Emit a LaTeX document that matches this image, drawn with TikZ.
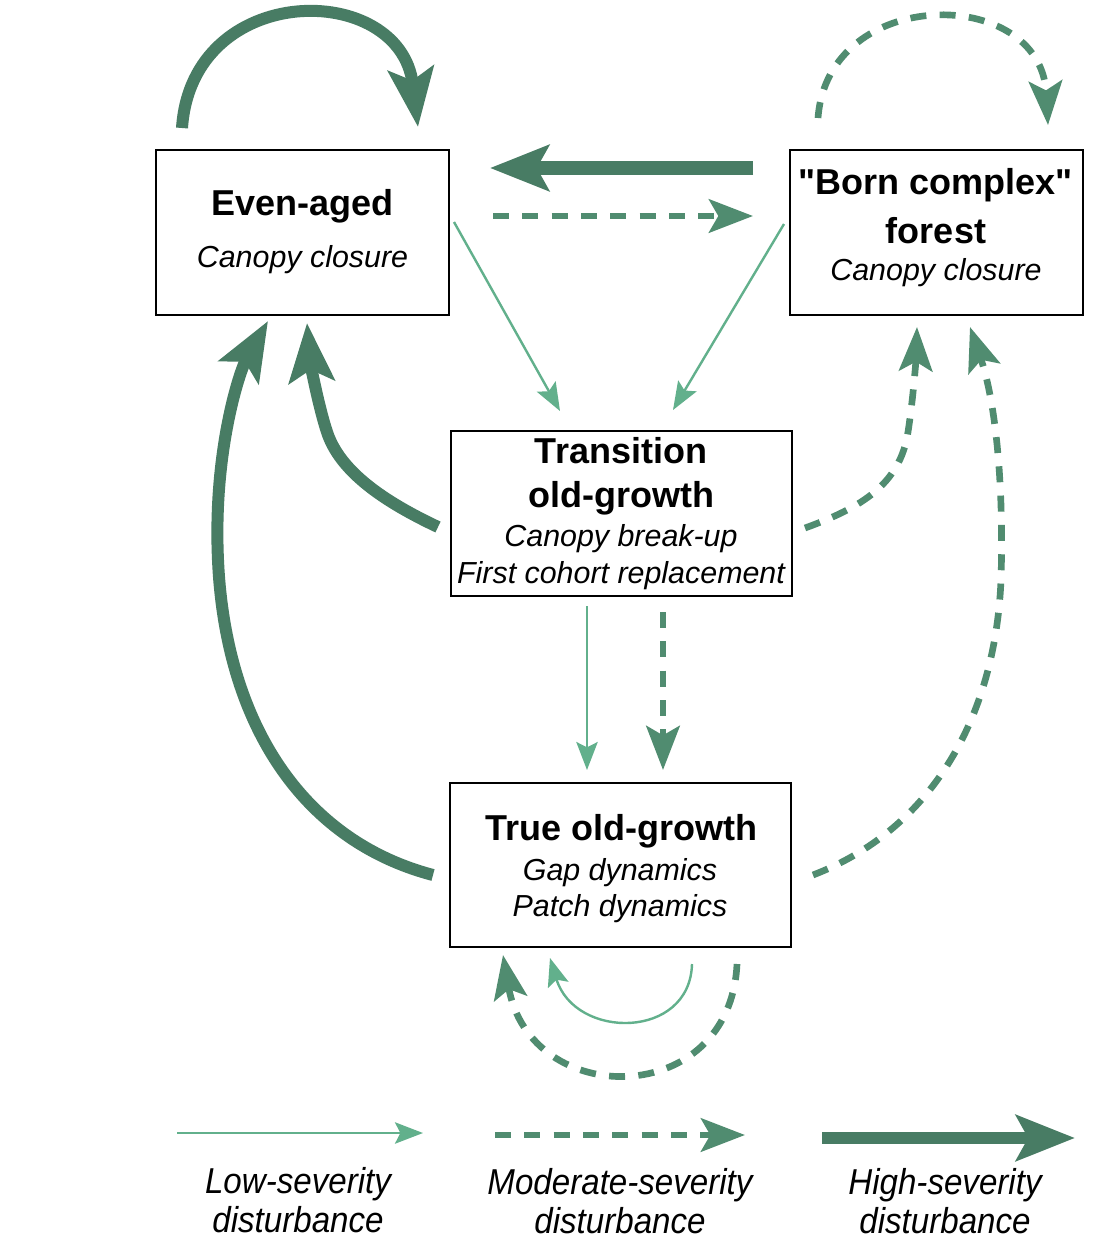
\documentclass[tikz,border=0pt]{standalone}
\usepackage{fontspec}
\setmainfont{Liberation Sans}[Ligatures=TeXOff]
\usetikzlibrary{arrows.meta}
\definecolor{hicol}{HTML}{487C64}
\definecolor{modcol}{HTML}{508C70}
\definecolor{locol}{HTML}{62B08C}
\begin{document}
\begin{tikzpicture}[x=0.75pt,y=-0.75pt,
  box/.style={draw=black,line width=1.5pt,inner sep=0pt},
  title/.style={anchor=base,font=\fontsize{27}{32}\selectfont\bfseries,inner sep=0pt},
  sub/.style={anchor=base,font=\fontsize{22.8}{26}\selectfont\itshape,inner sep=0pt},
  leg/.style={anchor=base,font=\fontsize{27}{32}\selectfont\itshape,inner sep=0pt},
  lo/.style={color=locol,line width=1.8pt,-{Stealth[length=21pt,width=16pt,inset=4pt]}},
  mod/.style={color=modcol,line width=5pt,dash pattern=on 12pt off 10pt,-{Stealth[length=33pt,width=25pt,inset=7pt]}},
  hi/.style={color=hicol,line width=9pt,-{Stealth[length=44pt,width=34pt,inset=9pt]}},
]
\path[fill=white,use as bounding box] (0,0) rectangle (1094,1240);

% boxes
\node[box,minimum width=219.75pt,minimum height=123.75pt] (even) at (302.5,232.5) {};
\node[box,minimum width=219.75pt,minimum height=123.75pt] (born) at (936.5,232.5) {};
\node[box,minimum width=255.75pt,minimum height=123.75pt] (trans) at (621.5,513.5) {};
\node[box,minimum width=255.75pt,minimum height=123pt] (true) at (620.5,865) {};

% box texts
\node[title] (evenT) at (302.5,215) {Even-aged};
\node[sub] (evenS) at (302.5,267) {Canopy closure};
\node[title] (bornT1) at (936,194) {"Born complex"};
\node[title] (bornT2) at (936,243) {forest};
\node[sub] (bornS) at (936,280) {Canopy closure};
\node[title] (transT1) at (621,463) {Transition};
\node[title] (transT2) at (621,507) {old-growth};
\node[sub] (transS1) at (621,546) {Canopy break-up};
\node[sub] (transS2) at (621,583) {First cohort replacement};
\node[title] (trueT) at (621,840) {True old-growth};
\node[sub] (trueS1) at (620,880) {Gap dynamics};
\node[sub] (trueS2) at (620,916) {Patch dynamics};

% connector end points
\coordinate (eLoopA) at (182,128);
\coordinate (eLoopB) at (418,127);
\coordinate (bLoopA) at (818,118);
\coordinate (bLoopB) at (1048,125);
\coordinate (bHiOut) at (753,168);
\coordinate (eHiIn) at (490,168);
\coordinate (eModOut) at (493,216);
\coordinate (bModIn) at (753,216);
\coordinate (eLoOut) at (454,222);
\coordinate (tLoIn1) at (560,411);
\coordinate (bLoOut) at (784,224);
\coordinate (tLoIn2) at (673,410);
\coordinate (tHiOut) at (438,527);
\coordinate (eHiIn1) at (307,323);
\coordinate (gHiOut) at (433,875);
\coordinate (eHiIn2) at (268,321);
\coordinate (tModOut) at (805,528);
\coordinate (bModIn1) at (917,327);
\coordinate (gModOut) at (813,875);
\coordinate (bModIn2) at (970,327);
\coordinate (tLoOut) at (587,606);
\coordinate (gLoIn) at (587,770);
\coordinate (tModOut2) at (663,612);
\coordinate (gModIn) at (663,770);
\coordinate (gLoA) at (692,964);
\coordinate (gLoB) at (550,958);
\coordinate (gModA) at (737,964);
\coordinate (gModB) at (503,955);

% connectors
\draw[hi] (eLoopA) .. controls (192,-20) and (400,-20) .. (eLoopB);
\draw[mod] (bLoopA) .. controls (828,-15) and (1040,-15) .. (bLoopB);
\draw[hi,line width=10pt] (bHiOut) -- (eHiIn);
\draw[mod] (eModOut) -- (bModIn);
\draw[lo] (eLoOut) -- (tLoIn1);
\draw[lo] (bLoOut) -- (tLoIn2);
\draw[hi] (tHiOut) .. controls (385,502) and (340,472) .. (327,432)
  .. controls (318,405) and (310,360) .. (eHiIn1);
\draw[hi] (gHiOut) .. controls (300,840) and (225,720) .. (218,560)
  .. controls (213,450) and (240,370) .. (eHiIn2);
\draw[mod] (tModOut) .. controls (860,508) and (900,485) .. (908,432)
  .. controls (913,400) and (916,360) .. (bModIn1);
\draw[mod] (gModOut) .. controls (930,830) and (995,720) .. (1001,580)
  .. controls (1004,480) and (995,400) .. (bModIn2);
\draw[lo] (tLoOut) -- (gLoIn);
\draw[mod] (tModOut2) -- (gModIn);
\draw[lo] (gLoA) .. controls (690,1040) and (575,1040) .. (gLoB);
\draw[mod] (gModA) .. controls (730,1110) and (530,1110) .. (gModB);

% legend
\coordinate (lLoA) at (177,1133);
\coordinate (lLoB) at (423,1133);
\coordinate (lModA) at (495,1135);
\coordinate (lModB) at (745,1135);
\coordinate (lHiA) at (822,1138);
\coordinate (lHiB) at (1075,1138);
\draw[lo] (lLoA) -- (lLoB);
\draw[mod] (lModA) -- (lModB);
\draw[hi] (lHiA) -- (lHiB);
\node[leg] (legLo1) at (298,1193) {\scalebox{0.92}[1]{Low-severity}};
\node[leg] (legLo2) at (298,1232) {\scalebox{0.92}[1]{disturbance}};
\node[leg] (legMod1) at (620,1194) {\scalebox{0.92}[1]{Moderate-severity}};
\node[leg] (legMod2) at (620,1233) {\scalebox{0.92}[1]{disturbance}};
\node[leg] (legHi1) at (945,1194) {\scalebox{0.92}[1]{High-severity}};
\node[leg] (legHi2) at (945,1233) {\scalebox{0.92}[1]{disturbance}};
\end{tikzpicture}
\end{document}
